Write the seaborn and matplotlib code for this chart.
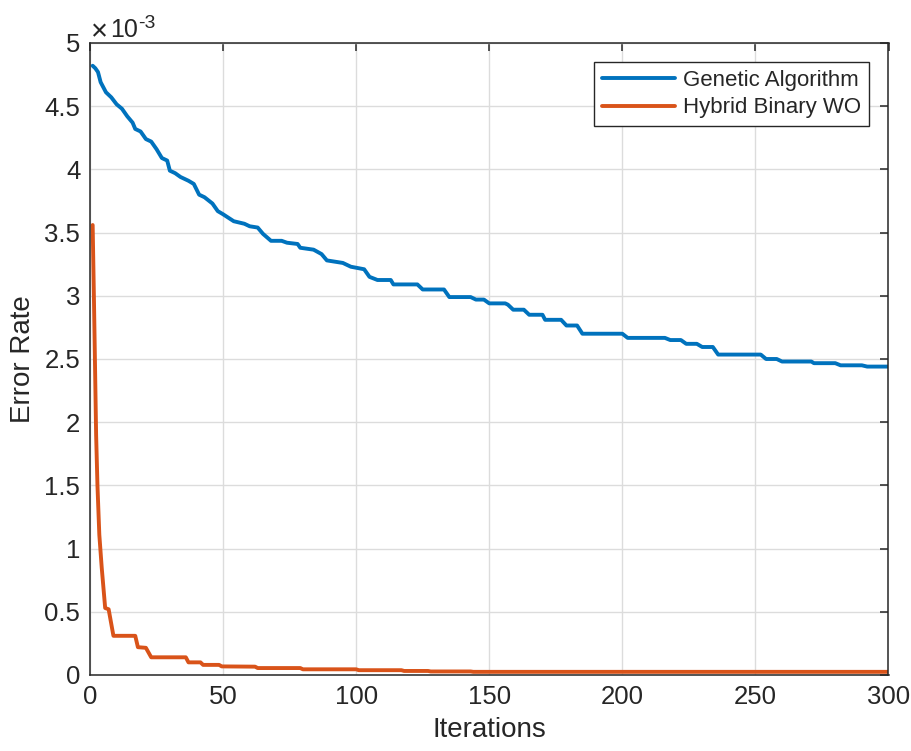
import numpy as np
import pandas as pd
import matplotlib
matplotlib.use("Agg")
import matplotlib.pyplot as plt
from matplotlib.ticker import FuncFormatter
import seaborn as sns

# Convergence curves (error rate in units of 1e-3)
ga_iter = [1, 2, 3, 4, 6, 8, 10, 12, 14, 16, 17, 19, 21, 23, 25, 27, 29, 30,
           32, 34, 37, 39, 41, 43, 46, 48, 50, 54, 58, 60, 63, 65, 68, 72, 74,
           78, 79, 84, 87, 89, 92, 95, 98, 103, 105, 108, 113, 114, 123, 125,
           133, 135, 143, 145, 148, 150, 156, 157, 159, 163, 165, 170, 171,
           177, 179, 183, 185, 200, 202, 216, 218, 222, 224, 228, 230, 234,
           236, 252, 254, 258, 260, 271, 272, 280, 282, 290, 292, 300]
ga_err = [4.82, 4.80, 4.77, 4.69, 4.61, 4.57, 4.515, 4.48, 4.42, 4.37, 4.32,
          4.30, 4.24, 4.22, 4.16, 4.09, 4.07, 3.99, 3.97, 3.94, 3.91, 3.885,
          3.80, 3.78, 3.73, 3.67, 3.645, 3.59, 3.57, 3.55, 3.54, 3.49, 3.435,
          3.435, 3.42, 3.41, 3.38, 3.365, 3.33, 3.28, 3.27, 3.26, 3.23, 3.21,
          3.15, 3.125, 3.125, 3.09, 3.09, 3.05, 3.05, 2.99, 2.99, 2.97, 2.97,
          2.94, 2.94, 2.93, 2.89, 2.89, 2.85, 2.85, 2.81, 2.81, 2.765, 2.765,
          2.70, 2.70, 2.667, 2.667, 2.65, 2.65, 2.62, 2.62, 2.595, 2.595,
          2.535, 2.535, 2.50, 2.50, 2.48, 2.48, 2.467, 2.467, 2.45, 2.45,
          2.44, 2.44]

hbwo_iter = [1, 1.5, 1.9, 2.3, 2.8, 3.5, 4.4, 5.7, 7, 8.8, 17, 18, 21, 23,
             36, 37, 41.5, 42.5, 48.5, 49.5, 62, 63, 79, 80, 100, 101, 117,
             118, 127, 128, 143, 144, 300]
hbwo_err = [3.56, 2.95, 2.43, 1.90, 1.50, 1.11, 0.85, 0.53, 0.52, 0.31, 0.31,
            0.22, 0.215, 0.14, 0.14, 0.10, 0.10, 0.08, 0.08, 0.068, 0.066,
            0.055, 0.055, 0.045, 0.045, 0.038, 0.038, 0.032, 0.032, 0.028,
            0.028, 0.025, 0.025]

series_names = ["Genetic Algorithm", "Hybrid Binary WO"]
series_colors = ["#0072BD", "#D95319"]

x_ticks = [0, 50, 100, 150, 200, 250, 300]
y_ticks = [0, 0.5, 1, 1.5, 2, 2.5, 3, 3.5, 4, 4.5, 5]

df = pd.concat([
    pd.DataFrame({"Iterations": ga_iter, "Error": ga_err,
                  "Method": series_names[0]}),
    pd.DataFrame({"Iterations": hbwo_iter, "Error": hbwo_err,
                  "Method": series_names[1]}),
], ignore_index=True)

sns.set_theme(style="white")
plt.rcParams["font.family"] = ["Liberation Sans", "DejaVu Sans"]

dark = "#262626"
fig = plt.figure(figsize=(9.12, 7.51), dpi=100)
ax = fig.add_axes([90 / 912, 76 / 751, 798.5 / 912, 632 / 751])

sns.lineplot(data=df, x="Iterations", y="Error", hue="Method",
             hue_order=series_names, palette=series_colors, sort=False,
             units="Method", estimator=None, linewidth=2.8, ax=ax)

ax.set_xlim(0, 300)
ax.set_ylim(0, 5)
ax.set_xticks(x_ticks)
ax.set_yticks(y_ticks)
ax.yaxis.set_major_formatter(FuncFormatter(lambda v, p: f"{v:g}"))

ax.grid(True, color="#dcdcdc", linewidth=1.0)
ax.set_axisbelow(True)
for s in ax.spines.values():
    s.set_visible(True)
    s.set_color(dark)
    s.set_linewidth(1.1)

ax.tick_params(axis="both", which="major", direction="in", length=6,
               width=1.1, color=dark, labelcolor=dark, labelsize=18.5,
               top=True, right=True, pad=7)

ax.set_xlabel("Iterations", fontsize=20, color=dark, labelpad=6)
ax.set_ylabel("Error Rate", fontsize=20, color=dark, labelpad=6)

# y-axis multiplier: "×", base and raised exponent
mult_parts = [("×", 0.5, 2.0, 21), ("10", 14.4, 4.5, 18), ("-3", 34.5, 10.5, 14)]
for txt, dx, dy, size in mult_parts:
    ax.annotate(txt, xy=(0, 1), xycoords="axes fraction", xytext=(dx, dy),
                textcoords="offset points", ha="left", va="baseline",
                fontsize=size, color=dark)

leg = ax.legend(loc="upper right", bbox_to_anchor=(0.9756, 0.97),
                borderaxespad=0, fontsize=16, frameon=True, fancybox=False,
                framealpha=1, edgecolor=dark, handlelength=3.3,
                handletextpad=0.35, borderpad=0.35, labelspacing=0.3)
leg.get_frame().set_linewidth(1.0)
for line in leg.get_lines():
    line.set_linewidth(2.8)

fig.savefig("out.png", dpi=100, facecolor="white")
